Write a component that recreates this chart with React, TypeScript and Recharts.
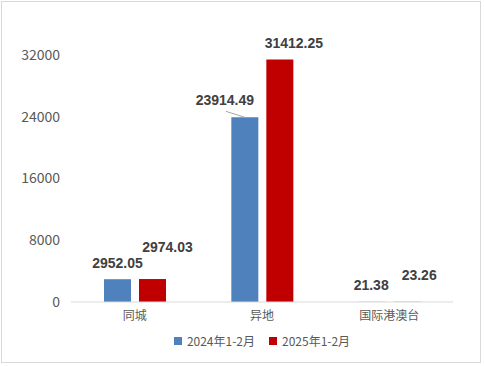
import { BarChart, Bar, XAxis, YAxis, LabelList } from 'recharts';

const categories = ['同城', '异地', '国际港澳台'];
const series2024 = [2952.05, 23914.49, 21.38];
const series2025 = [2974.03, 31412.25, 23.26];
const yTicks = [0, 8000, 16000, 24000, 32000];

const BLUE = '#4F81BD';
const RED = '#C00000';

// manual label nudges (Excel-style hand placed labels)
const offsets2024 = [
  { dx: 0, dy: -16, leader: false },
  { dx: -20, dy: -17, leader: true },
  { dx: -1, dy: -17, leader: false },
];
const offsets2025 = [
  { dx: 15, dy: -32, leader: false },
  { dx: 14, dy: -16, leader: false },
  { dx: 12, dy: -27, leader: false },
];

const data = categories.map((name, i) => ({
  name,
  a: series2024[i],
  b: series2025[i],
}));

const makeLabel = (offs: typeof offsets2024) => (props: any) => {
  const { x, y, width, value, index } = props;
  const o = offs[index];
  const cx = x + width / 2 + o.dx;
  const cy = y + o.dy;
  return (
    <g>
      {o.leader && (
        <line x1={cx + 1} y1={cy + 11} x2={x + width / 2} y2={y} stroke="#a6a6a6" strokeWidth={1} />
      )}
      <text
        x={cx}
        y={cy}
        textAnchor="middle"
        dominantBaseline="central"
        fill="#404040"
        fontSize={14}
        fontWeight="bold"
        fontFamily="'Liberation Sans', Arial, sans-serif"
      >
        {value.toFixed(2)}
      </text>
    </g>
  );
};

const legendItems = [
  { label: '2024年1-2月', color: BLUE },
  { label: '2025年1-2月', color: RED },
];

export default function App() {
  return (
    <div style={{ position: 'absolute', left: 0, top: 0, width: 484, height: 366, background: '#fff' }}>
      <div
        style={{
          position: 'absolute',
          left: 1,
          top: 1,
          width: 480,
          height: 362,
          border: '1px solid #d9d9d9',
          boxSizing: 'border-box',
        }}
      />
      <BarChart
        width={484}
        height={366}
        data={data}
        margin={{ top: 24, right: 31, left: 0, bottom: 34 }}
        barSize={27}
        barGap={8}
        style={{ position: 'absolute', left: 0, top: 0 }}
      >
        <XAxis
          dataKey="name"
          height={30}
          axisLine={{ stroke: '#d9d9d9' }}
          tickLine={false}
          tickSize={0}
          tickMargin={9}
          tick={{ fill: '#595959', fontSize: 12, fontFamily: "'Noto Sans CJK SC', sans-serif" }}
        />
        <YAxis
          width={71}
          domain={[0, 36000]}
          ticks={yTicks}
          axisLine={false}
          tickLine={false}
          tickSize={0}
          tickMargin={11}
          tick={{ fill: '#595959', fontSize: 14, fontFamily: "'Noto Sans CJK SC', sans-serif" }}
        />
        <Bar dataKey="a" fill={BLUE} isAnimationActive={false}>
          <LabelList dataKey="a" content={makeLabel(offsets2024)} />
        </Bar>
        <Bar dataKey="b" fill={RED} isAnimationActive={false}>
          <LabelList dataKey="b" content={makeLabel(offsets2025)} />
        </Bar>
      </BarChart>
      {/* legend */}
      <div
        style={{
          position: 'absolute',
          left: 0,
          top: 332,
          width: 484,
          display: 'flex',
          justifyContent: 'center',
          paddingLeft: 40,
          boxSizing: 'border-box',
          gap: 14,
          fontFamily: "'Noto Sans CJK SC', sans-serif",
          fontSize: 12,
          color: '#595959',
        }}
      >
        {legendItems.map((it) => (
          <div key={it.label} style={{ display: 'flex', alignItems: 'center', gap: 5 }}>
            <span style={{ width: 8, height: 8, background: it.color, display: 'inline-block' }} />
            <span>{it.label}</span>
          </div>
        ))}
      </div>
    </div>
  );
}
